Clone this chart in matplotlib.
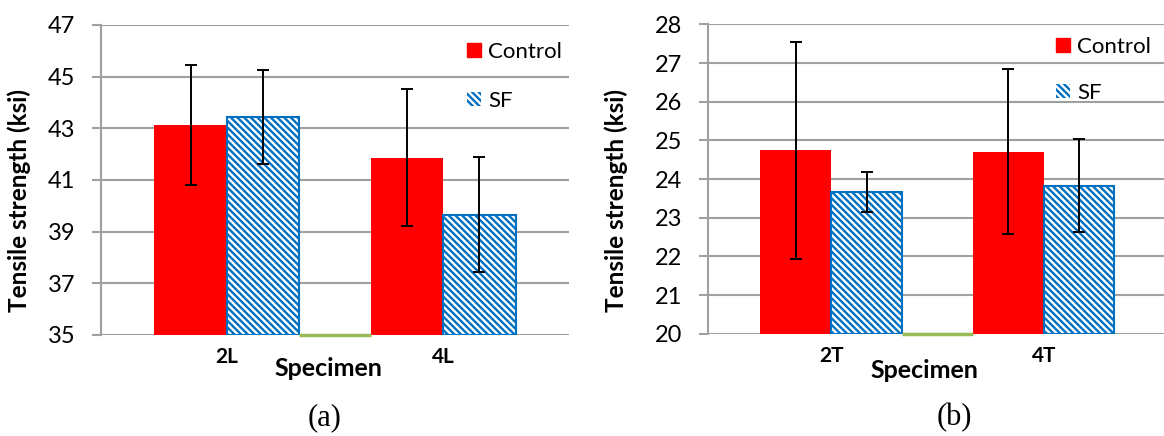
import matplotlib
matplotlib.use("Agg")
import matplotlib.pyplot as plt
from matplotlib.patches import Patch

plt.rcParams['font.family'] = ['Lato', 'DejaVu Sans']
plt.rcParams['hatch.linewidth'] = 1.7

# data
cats_a = ['2L', '4L']
control_a = [43.14, 41.86]
control_a_err = [2.33, 2.66]
sf_a = [43.43, 39.66]
sf_a_err = [1.83, 2.22]

cats_b = ['2T', '4T']
control_b = [24.74, 24.71]
control_b_err = [2.81, 2.13]
sf_b = [23.66, 23.83]
sf_b_err = [0.51, 1.20]

ctrl_x = [0, 3]
sf_x = [1, 4]
gap_x = [2]      # empty third series, shows only as a green line on the axis
tick_x = [0.5, 3.5]

RED = '#FF0000'
BLUE = '#0070C0'
GREEN = '#9BBB59'
GRID = '#A0A0A0'
HATCH = '\\' * 5


def draw_panel(ax, cats, ctrl, ctrl_err, sf, sf_err, ymin, ymax, step):
    ax.set_ylim(ymin, ymax)
    ax.set_xlim(-1.24, 5.24)
    ax.set_yticks(range(ymin, ymax + 1, step))
    ax.yaxis.grid(True, color=GRID, lw=1.5)
    ax.set_axisbelow(True)
    ax.bar(ctrl_x, [v - ymin for v in ctrl], bottom=ymin, width=1.0,
           color=RED, zorder=2)
    ax.bar(sf_x, [v - ymin for v in sf], bottom=ymin, width=1.0,
           facecolor='white', edgecolor=BLUE, hatch=HATCH, lw=1.5, zorder=2)
    for g in gap_x:
        ax.hlines(ymin, g - 0.5, g + 0.5, color=GREEN, lw=2.5, zorder=4,
                  clip_on=False)
    ax.errorbar(ctrl_x, ctrl, yerr=ctrl_err, fmt='none', ecolor='black',
                elinewidth=1.4, capsize=4, capthick=1.4, zorder=5)
    ax.errorbar(sf_x, sf, yerr=sf_err, fmt='none', ecolor='black',
                elinewidth=1.4, capsize=4, capthick=1.4, zorder=5)
    ax.set_xticks(tick_x)
    ax.set_xticklabels(cats, fontweight='bold', fontsize=15)
    ax.tick_params(axis='x', length=0, pad=9)
    ax.tick_params(axis='y', length=6.5, width=1.5, color=GRID,
                   labelsize=17, pad=12)
    for s in ['top', 'right', 'bottom']:
        ax.spines[s].set_visible(False)
    ax.spines['left'].set_color(GRID)
    ax.spines['left'].set_linewidth(1.5)
    ax.set_ylabel('Tensile strength (ksi)', fontweight='bold', fontsize=17.5)
    ax.set_xlabel('Specimen', fontweight='bold', fontsize=18)


fig = plt.figure(figsize=(11.64, 4.36), dpi=100)
ax_a = fig.add_axes([0.0868, 0.2317, 0.402, 0.711])
ax_b = fig.add_axes([0.6082, 0.2346, 0.3943, 0.7096])

draw_panel(ax_a, cats_a, control_a, control_a_err, sf_a, sf_a_err, 35, 47, 2)
draw_panel(ax_b, cats_b, control_b, control_b_err, sf_b, sf_b_err, 20, 28, 1)

ax_a.yaxis.set_label_coords(-0.15, 0.435)
ax_a.xaxis.set_label_coords(0.485, -0.07)
ax_b.yaxis.set_label_coords(-0.174, 0.432)
ax_b.xaxis.set_label_coords(0.471, -0.082)

handles = [Patch(facecolor=RED, edgecolor=RED),
           Patch(facecolor='white', edgecolor=BLUE, hatch=HATCH, lw=0)]
fig.legend(handles, ['Control', 'SF'], loc='upper left',
           bbox_to_anchor=(467 / 1164, 1 - 42 / 436), frameon=False,
           fontsize=16, handlelength=0.65, handleheight=0.6,
           handletextpad=0.3, labelspacing=1.3, borderpad=0, borderaxespad=0)
fig.legend(handles, ['Control', 'SF'], loc='upper left',
           bbox_to_anchor=(1056 / 1164, 1 - 37 / 436), frameon=False,
           fontsize=16, handlelength=0.65, handleheight=0.6,
           handletextpad=0.3, labelspacing=1.15, borderpad=0, borderaxespad=0)

fig.text(325 / 1164, 1 - 418 / 436, '(a)', family='Liberation Serif',
         fontsize=22, ha='center', va='center')
fig.text(954 / 1164, 1 - 418 / 436, '(b)', family='Liberation Serif',
         fontsize=22, ha='center', va='center')

fig.savefig('out.png', dpi=100)
